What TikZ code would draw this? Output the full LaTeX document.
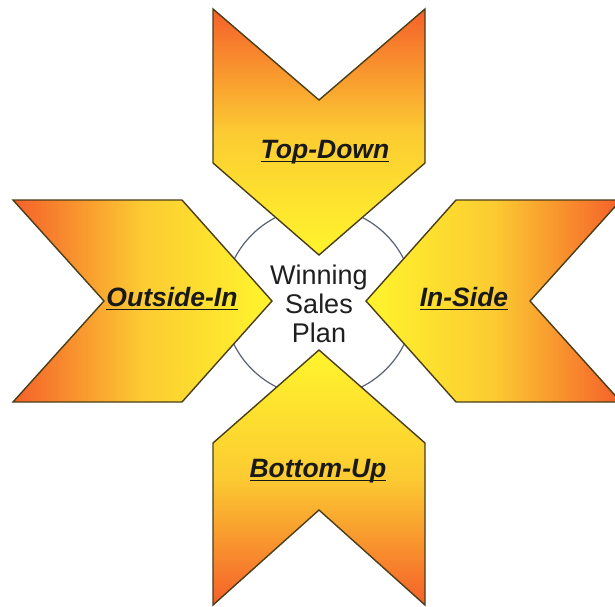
\documentclass[tikz,border=0pt]{standalone}
\usepackage{fontspec}
\setmainfont{Liberation Sans}
\newcommand{\myul}[1]{\leavevmode\setbox0=\hbox{#1}\rlap{\vrule height -2.5pt depth 4.2pt width\wd0}\box0}
\definecolor{orng}{HTML}{F5602A}
\definecolor{ylw}{HTML}{FFF52C}
\definecolor{midc}{HTML}{FCCB32}
\definecolor{edgec}{HTML}{4A3E18}
\definecolor{ringc}{HTML}{5A6272}
\begin{document}
\begin{tikzpicture}[x=1pt,y=-1pt,
  chev/.style={draw=edgec, line width=1.4pt, line join=miter},
  lbl/.style={font=\fontsize{26.5}{30}\selectfont\bfseries\itshape, text=black!90, anchor=base, inner sep=0pt},
  ctr/.style={font=\fontsize{27}{29}\selectfont, text=black!88, align=center, inner sep=0pt}]
\useasboundingbox (0,0) rectangle (615,606);
\clip (0,0) rectangle (615,606);
\fill[white] (0,0) rectangle (615,606);
\draw[ringc, line width=1.2pt, fill=white] (319,302) circle (95);
% top
\draw[chev, top color=orng, bottom color=ylw, middle color=midc]
  (213,9) -- (319,100) -- (425,9) -- (425,163) -- (319,255) -- (213,163) -- cycle;
% bottom
\draw[chev, top color=ylw, bottom color=orng, middle color=midc]
  (319,350) -- (425,443) -- (425,605) -- (319,510) -- (213,605) -- (213,443) -- cycle;
% left
\draw[chev, left color=orng, right color=ylw, middle color=midc]
  (13,200) -- (182,200) -- (272,301) -- (182,402) -- (13,402) -- (104,301) -- cycle;
% right
\draw[chev, left color=ylw, right color=orng, middle color=midc]
  (366,301) -- (456,200) -- (621,200) -- (530,301) -- (621,402) -- (456,402) -- cycle;
\node[ctr] (plan) at (319,304) {Winning\\Sales\\Plan};
\node[lbl] (top) at (325,158) {\myul{Top-Down}};
\node[lbl] (outside) at (172,306) {\myul{Outside-In}};
\node[lbl] (inside) at (464,306) {\myul{In-Side}};
\node[lbl] (bottom) at (318,477) {\myul{Bottom-Up}};
\end{tikzpicture}
\end{document}
